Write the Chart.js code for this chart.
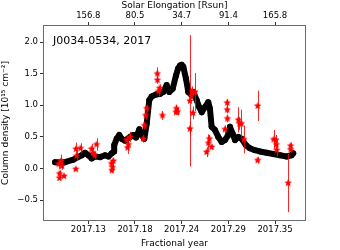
<!DOCTYPE html>
<html>
<head>
<meta charset="utf-8">
<script src="https://cdn.jsdelivr.net/npm/chart.js@4"></script>
<style>
  html, body { margin: 0; padding: 0; background: #fff; }
  #chart { display: block; }
</style>
</head>
<body>
<canvas id="chart" width="340" height="250"></canvas>
<script>
// black curve (smoothed column density)
const curveYears = [
  2017.0908, 2017.1026, 2017.1123, 2017.1222, 2017.1261, 2017.1300, 2017.1340, 2017.1379,
  2017.1438, 2017.1497, 2017.1536, 2017.1576, 2017.1603, 2017.1605, 2017.1634, 2017.1665,
  2017.1693, 2017.1732, 2017.1791, 2017.1830, 2017.1862, 2017.1901, 2017.1929, 2017.1960,
  2017.1988, 2017.2018, 2017.2047, 2017.2097, 2017.2144, 2017.2183, 2017.2223, 2017.2254,
  2017.2294, 2017.2333, 2017.2357, 2017.2380, 2017.2400, 2017.2419, 2017.2451, 2017.2478,
  2017.2518, 2017.2537, 2017.2577, 2017.2607, 2017.2636, 2017.2674, 2017.2713, 2017.2733,
  2017.2753, 2017.2792, 2017.2831, 2017.2871, 2017.2910, 2017.2949, 2017.2969, 2017.3001,
  2017.3028, 2017.3067, 2017.3107, 2017.3157, 2017.3204, 2017.3263, 2017.3322, 2017.3401,
  2017.3479, 2017.3558, 2017.3637, 2017.3695, 2017.3714
];
const curveDensity = [
  0.10, 0.10, 0.14, 0.21, 0.25, 0.21, 0.16, 0.19,
  0.18, 0.21, 0.19, 0.24, 0.27, 0.37, 0.47, 0.53,
  0.47, 0.44, 0.50, 0.53, 0.49, 0.62, 0.53, 0.47,
  0.71, 1.08, 1.14, 1.17, 1.18, 1.21, 1.32, 1.21,
  1.26, 1.47, 1.58, 1.63, 1.64, 1.61, 1.42, 1.21,
  1.16, 1.21, 1.08, 0.97, 0.89, 0.97, 1.05, 0.95,
  0.66, 0.61, 0.50, 0.42, 0.45, 0.53, 0.66, 0.55,
  0.45, 0.50, 0.47, 0.37, 0.32, 0.29, 0.27, 0.25,
  0.23, 0.21, 0.19, 0.21, 0.24
];

// red measurements with error bars
const obsYears = [
  2017.0949, 2017.0961, 2017.0961, 2017.0979, 2017.1014, 2017.0990, 2017.1155, 2017.1161,
  2017.1208, 2017.1152, 2017.1338, 2017.1355, 2017.1373, 2017.1397, 2017.1573, 2017.1585,
  2017.1577, 2017.1594, 2017.1750, 2017.1762, 2017.1773, 2017.1791, 2017.1948, 2017.1962,
  2017.1976, 2017.1988, 2017.2113, 2017.2115, 2017.2127, 2017.2139, 2017.2174, 2017.2339,
  2017.2351, 2017.2333, 2017.2498, 2017.2498, 2017.2521, 2017.2557, 2017.2533, 2017.2515,
  2017.2694, 2017.2716, 2017.2727, 2017.2753, 2017.2910, 2017.2937, 2017.2937, 2017.2939,
  2017.3069, 2017.3081, 2017.3104, 2017.3134, 2017.3295, 2017.3295, 2017.3483, 2017.3511,
  2017.3516, 2017.3520, 2017.3655, 2017.3684, 2017.3684
];
const obsDensity = [
  0.07, -0.08, -0.15, 0.12, -0.12, 0.04, 0.31, 0.20,
  0.32, -0.01, 0.31, 0.25, 0.21, 0.38, 0.08, 0.02,
  -0.03, 0.12, 0.45, 0.33, 0.38, 0.50, 0.47, 0.68,
  0.84, 0.95, 1.50, 1.40, 1.22, 1.27, 0.84, 0.95,
  0.90, 0.89, 1.07, 0.63, 1.22, 1.21, 0.88, 1.15,
  0.26, 0.40, 0.47, 0.34, 0.62, 1.04, 0.93, 0.79,
  0.77, 0.71, 0.71, 0.46, 0.99, 0.13, 0.46, 0.45,
  0.38, 0.29, -0.23, 0.36, 0.30
];
const obsError = [
  0.08, 0.05, 0.04, 0.10, 0.03, 0.06, 0.10, 0.08,
  0.08, 0.02, 0.08, 0.07, 0.06, 0.10, 0.05, 0.05,
  0.04, 0.05, 0.07, 0.10, 0.06, 0.08, 0.06, 0.06,
  0.07, 0.06, 0.10, 0.06, 0.08, 0.06, 0.07, 0.06,
  0.06, 0.04, 1.04, 0.10, 0.08, 0.30, 0.10, 0.05,
  0.08, 0.14, 0.06, 0.04, 0.06, 0.06, 0.06, 0.06,
  0.20, 0.10, 0.22, 0.22, 0.24, 0.05, 0.15, 0.08,
  0.10, 0.10, 0.46, 0.05, 0.05
];

const xTicks = [2017.13, 2017.185, 2017.24, 2017.295, 2017.35];
const xTickLabels = ['2017.13', '2017.18', '2017.24', '2017.29', '2017.35'];
const elongLabels = ['156.8', '80.5', '34.7', '91.4', '165.8'];
const yTicks = [-0.5, 0, 0.5, 1.0, 1.5, 2.0];

const FONT = 'DejaVu Sans';
const SPINE = '#6b6b6b';

function makeStar(r) {
  const c = document.createElement('canvas');
  c.width = c.height = r * 2 + 2;
  const g = c.getContext('2d');
  g.fillStyle = '#ff0000';
  g.beginPath();
  for (let i = 0; i < 10; i++) {
    const rad = i % 2 === 0 ? r : r * 0.45;
    const a = -Math.PI / 2 + i * Math.PI / 5;
    const px = r + 1 + rad * Math.cos(a);
    const py = r + 1 + rad * Math.sin(a);
    if (i === 0) g.moveTo(px, py); else g.lineTo(px, py);
  }
  g.closePath();
  g.fill();
  return c;
}

const errorBars = {
  id: 'errorBars',
  beforeDatasetDraw(chart, args) {
    if (args.index !== 1) return;
    const ctx = chart.ctx;
    const x = chart.scales.x, y = chart.scales.y;
    ctx.save();
    ctx.strokeStyle = 'rgba(255,0,0,0.85)';
    ctx.lineWidth = 1;
    for (let i = 0; i < obsYears.length; i++) {
      const px = Math.round(x.getPixelForValue(obsYears[i])) + 0.5;
      ctx.beginPath();
      ctx.moveTo(px, y.getPixelForValue(obsDensity[i] + obsError[i]));
      ctx.lineTo(px, y.getPixelForValue(obsDensity[i] - obsError[i]));
      ctx.stroke();
    }
    ctx.restore();
  }
};

const frame = {
  id: 'frame',
  afterDraw(chart) {
    const a = chart.chartArea, ctx = chart.ctx;
    ctx.save();
    ctx.strokeStyle = SPINE;
    ctx.lineWidth = 1;
    ctx.strokeRect(Math.round(a.left) + 0.5, Math.round(a.top) + 0.5,
      Math.round(a.right - a.left) - 1, Math.round(a.bottom - a.top) - 1);
    ctx.fillStyle = '#000';
    ctx.font = '11px "' + FONT + '"';
    ctx.textBaseline = 'middle';
    ctx.fillText('J0034-0534, 2017', a.left + 10, a.top + 16);
    ctx.restore();
  }
};

const tickFont = { family: FONT, size: 8.5 };
const titleFont = { family: FONT, size: 9 };
const gridOpts = { display: true, drawOnChartArea: false, drawTicks: true, tickLength: 3, color: '#333' };

new Chart(document.getElementById('chart'), {
  type: 'scatter',
  data: {
    datasets: [
      {
        label: 'curve',
        data: curveYears.map((v, i) => ({ x: v, y: curveDensity[i] })),
        showLine: true,
        borderColor: '#000',
        borderWidth: 6,
        borderCapStyle: 'round',
        borderJoinStyle: 'round',
        backgroundColor: '#000',
        pointRadius: 3,
        pointBorderWidth: 0,
        order: 1
      },
      {
        label: 'obs',
        data: obsYears.map((v, i) => ({ x: v, y: obsDensity[i] })),
        pointStyle: makeStar(4),
        pointRadius: 4,
        order: 0
      }
    ]
  },
  options: {
    responsive: false,
    animation: false,
    devicePixelRatio: 1,
    layout: { padding: { left: 0, right: 34, top: 0, bottom: 0 } },
    plugins: { legend: { display: false }, tooltip: { enabled: false } },
    scales: {
      x: {
        type: 'linear',
        position: 'bottom',
        min: 2017.0766,
        max: 2017.3865,
        afterBuildTicks: s => { s.ticks = xTicks.map(v => ({ value: v })); },
        afterFit: s => { s.height = 29; },
        ticks: {
          font: tickFont, color: '#000', padding: 1, maxRotation: 0,
          callback: (v, i) => xTickLabels[i]
        },
        grid: gridOpts,
        border: { display: false },
        title: { display: true, text: 'Fractional year', font: titleFont, color: '#000', padding: { top: 1, bottom: 1 } }
      },
      x2: {
        type: 'linear',
        position: 'top',
        min: 2017.0766,
        max: 2017.3865,
        afterBuildTicks: s => { s.ticks = xTicks.map(v => ({ value: v })); },
        afterFit: s => { s.height = 25; },
        ticks: {
          font: tickFont, color: '#000', padding: 1, maxRotation: 0,
          callback: (v, i) => elongLabels[i]
        },
        grid: gridOpts,
        border: { display: false },
        title: { display: true, text: 'Solar Elongation [Rsun]', font: titleFont, color: '#000', padding: { top: 0, bottom: 0 } }
      },
      y: {
        type: 'linear',
        min: -0.83,
        max: 2.27,
        afterBuildTicks: s => { s.ticks = yTicks.map(v => ({ value: v })); },
        afterFit: s => { s.width = 43; },
        ticks: {
          font: tickFont, color: '#000', padding: 2,
          callback: v => (v < 0 ? '\u2212' : '') + Math.abs(v).toFixed(1)
        },
        grid: gridOpts,
        border: { display: false },
        title: { display: true, text: 'Column density [10\u00b9\u2075 cm\u207b\u00b2]', font: titleFont, color: '#000', padding: { top: 0, bottom: 0 } }
      }
    }
  },
  plugins: [errorBars, frame]
});
</script>
</body>
</html>
